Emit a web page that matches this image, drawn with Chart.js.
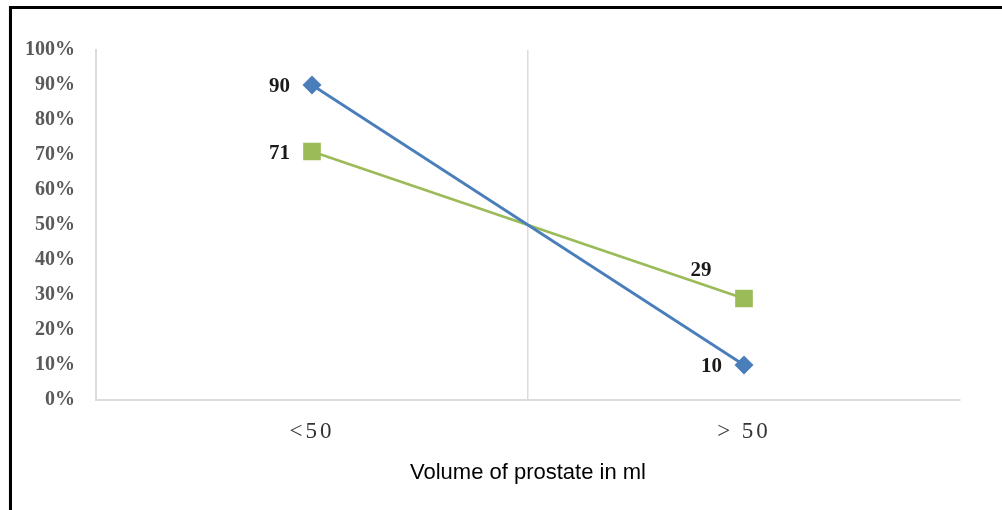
<!DOCTYPE html>
<html>
<head>
<meta charset="utf-8">
<script src="https://cdn.jsdelivr.net/npm/chart.js@4.4.1/dist/chart.umd.min.js"></script>
<style>
  html, body { margin: 0; padding: 0; background: #ffffff; }
  #wrap { position: relative; width: 1002px; height: 510px; overflow: hidden; }
  #frame {
    position: absolute; left: 9px; top: 6px; width: 1100px; height: 600px;
    border-left: 3px solid #000; border-top: 3px solid #000;
    box-shadow: 0 1px 1px rgba(0,0,0,0.25);
  }
  #chart { position: absolute; left: 0; top: 0; }
</style>
</head>
<body>
<div id="wrap">
  <div id="frame"></div>
  <canvas id="chart" width="1002" height="510"></canvas>
</div>
<script>
// Prostate volume groups and share of patients (%) in each series
const categories = ['<50', '> 50'];
const seriesA = [90, 10];
const seriesB = [71, 29];
const yTicks = [0, 10, 20, 30, 40, 50, 60, 70, 80, 90, 100];

// Category axis whose labels are drawn with extra letter spacing
class SpacedCategoryScale extends Chart.CategoryScale {
  drawLabels(area) {
    const ctx = this.ctx;
    ctx.save();
    ctx.letterSpacing = '3px';
    super.drawLabels(area);
    ctx.restore();
  }
}
SpacedCategoryScale.id = 'spacedCategory';
SpacedCategoryScale.defaults = Chart.CategoryScale.defaults;
Chart.register(SpacedCategoryScale);

// Value labels next to each point
const valueLabels = {
  id: 'valueLabels',
  afterDatasetsDraw(chart) {
    const ctx = chart.ctx;
    ctx.save();
    ctx.font = 'bold 21px "Liberation Serif", "Times New Roman", serif';
    ctx.fillStyle = '#1a1a1a';
    ctx.textBaseline = 'middle';
    chart.data.datasets.forEach((ds, di) => {
      const meta = chart.getDatasetMeta(di);
      meta.data.forEach((pt, i) => {
        const text = String(ds.data[i]);
        const where = ds.labelPlacement[i];
        if (where === 'aboveLeft') {
          ctx.textAlign = 'center';
          ctx.fillText(text, pt.x - 43, pt.y - 28);
        } else {
          ctx.textAlign = 'right';
          ctx.fillText(text, pt.x - 22, pt.y + 2);
        }
      });
    });
    ctx.restore();
  }
};

new Chart(document.getElementById('chart'), {
  type: 'line',
  data: {
    labels: categories,
    datasets: [
      {
        label: 'Series 1',
        data: seriesA,
        borderColor: '#4a7ebb',
        backgroundColor: '#4a7ebb',
        borderWidth: 2.8,
        pointStyle: 'rectRot',
        pointRadius: 9.5,
        pointHoverRadius: 9.5,
        pointBorderWidth: 0,
        tension: 0,
        labelPlacement: ['left', 'left']
      },
      {
        label: 'Series 2',
        data: seriesB,
        borderColor: '#9bbb59',
        backgroundColor: '#9bbb59',
        borderWidth: 2.8,
        pointStyle: 'rect',
        pointRadius: 12.5,
        pointHoverRadius: 12.5,
        pointBorderWidth: 0,
        tension: 0,
        labelPlacement: ['left', 'aboveLeft']
      }
    ]
  },
  options: {
    responsive: false,
    animation: false,
    devicePixelRatio: 1,
    layout: { padding: { left: 0, top: 50, right: 42, bottom: 0 } },
    plugins: {
      legend: { display: false },
      tooltip: { enabled: false }
    },
    scales: {
      x: {
        type: 'spacedCategory',
        offset: true,
        grid: {
          display: true,
          offset: true,
          drawTicks: false,
          lineWidth: 1.5,
          color: (c) => (c.index === 1 ? '#dcdcdc' : 'rgba(0,0,0,0)')
        },
        border: { display: true, color: '#dcdcdc', width: 2 },
        ticks: {
          padding: 18,
          color: '#333333',
          font: { family: '"Liberation Serif", "Times New Roman", serif', size: 23 }
        },
        title: {
          display: true,
          text: 'Volume of prostate in ml',
          color: '#000000',
          font: { family: '"Liberation Sans", Arial, sans-serif', size: 22 },
          padding: { top: 0, bottom: 24 }
        },
        afterFit(scale) { scale.height = 110; }
      },
      y: {
        min: 0,
        max: 100,
        afterBuildTicks(scale) { scale.ticks = yTicks.map(v => ({ value: v })); },
        grid: { display: false, drawTicks: false },
        border: { display: true, color: '#dcdcdc', width: 2 },
        ticks: {
          padding: 21,
          color: '#595959',
          font: { family: '"Liberation Serif", "Times New Roman", serif', size: 20, weight: 'bold' },
          callback: (v) => v + '%'
        },
        afterFit(scale) { scale.width = 96; }
      }
    }
  },
  plugins: [valueLabels]
});
</script>
</body>
</html>
